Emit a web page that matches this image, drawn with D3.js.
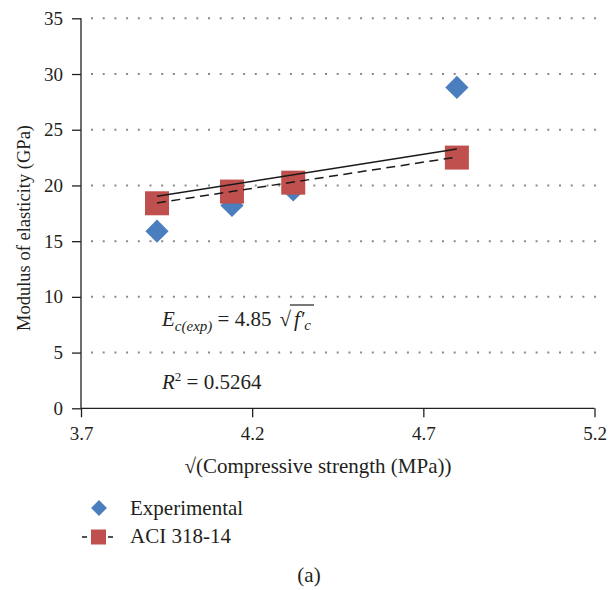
<!DOCTYPE html>
<html>
<head>
<meta charset="utf-8">
<script src="https://cdn.jsdelivr.net/npm/d3@7"></script>
<style>
  body { margin: 0; background: #fff; }
  svg text { font-family: "Liberation Serif", "Times New Roman", Times, Tinos, "Noto Serif", "DejaVu Serif", FreeSerif, serif; fill: #231f20; }
</style>
</head>
<body>
<div id="chart"></div>
<script>
// sqrt(f'c) values of the specimens (MPa^0.5)
const sqrtFc = [3.922, 4.141, 4.32, 4.798];
// Measured modulus (GPa)
const experimental = [15.9, 18.2, 19.6, 28.8];
// ACI 318-14 predicted modulus (GPa)
const aci = [18.4, 19.45, 20.25, 22.5];

// Fit line end points (x, GPa)
const expFit = [[3.922, 19.02], [4.798, 23.27]];
const aciFit = [[3.922, 18.43], [4.798, 22.55]];

const xTicks = [3.7, 4.2, 4.7, 5.2];
const yTicks = [0, 5, 10, 15, 20, 25, 30, 35];

const width = 608, height = 590;
const plot = { left: 81, right: 594.5, top: 18.3, bottom: 408.3 };
const serif = '"Liberation Serif", "Times New Roman", Times, Tinos, "Noto Serif", "DejaVu Serif", FreeSerif, serif';

const svg = d3.select("#chart").append("svg")
    .attr("width", width)
    .attr("height", height)
    .attr("font-family", serif);

const x = d3.scaleLinear().domain([3.7, 5.2]).range([plot.left, plot.right]);
const y = d3.scaleLinear().domain([0, 35]).range([plot.bottom, plot.top]);

// dotted grid lines
svg.append("g").selectAll("line")
    .data(yTicks.filter(d => d > 0))
    .enter().append("line")
    .attr("x1", plot.left + 10)
    .attr("x2", 597)
    .attr("y1", d => y(d))
    .attr("y2", d => y(d))
    .attr("stroke", "#8a8a8a")
    .attr("stroke-width", 2)
    .attr("stroke-dasharray", "2,9.7");

// axes
const xAxis = svg.append("g")
    .attr("transform", `translate(0,${plot.bottom})`)
    .call(d3.axisBottom(x).tickValues(xTicks).tickFormat(d3.format(".1f")).tickSize(9).tickPadding(9));

const yAxis = svg.append("g")
    .attr("transform", `translate(${plot.left},0)`)
    .call(d3.axisLeft(y).tickValues(yTicks).tickSize(9).tickPadding(9));

[xAxis, yAxis].forEach(g => {
    g.attr("font-family", serif);
    g.select(".domain").attr("stroke", "#231f20").attr("stroke-width", 1.3);
    g.selectAll(".tick line").attr("stroke", "#231f20").attr("stroke-width", 1.3);
    g.selectAll(".tick text").attr("font-size", 19).attr("fill", "#231f20");
});
// remove the outer tick caps of the domain path
xAxis.select(".domain").attr("d", `M${plot.left},0H${plot.right}`);
yAxis.select(".domain").attr("d", `M0,${plot.top}V${plot.bottom}`);

// axis titles
svg.append("text")
    .attr("x", 318)
    .attr("y", 473)
    .attr("text-anchor", "middle")
    .attr("font-size", 21)
    .text("√(Compressive strength (MPa))");

svg.append("text")
    .attr("transform", "translate(30,228) rotate(-90)")
    .attr("text-anchor", "middle")
    .attr("font-size", 18.5)
    .text("Modulus of elasticity (GPa)");

const blue = "#4a7ebf", red = "#c0504d";

// experimental diamonds
svg.append("g").selectAll("rect")
    .data(sqrtFc.map((d, i) => [d, experimental[i]]))
    .enter().append("rect")
    .attr("x", -8.2).attr("y", -8.2)
    .attr("width", 16.4).attr("height", 16.4)
    .attr("fill", blue)
    .attr("transform", d => `translate(${x(d[0])},${y(d[1])}) rotate(45)`);

// ACI squares
svg.append("g").selectAll("rect")
    .data(sqrtFc.map((d, i) => [d, aci[i]]))
    .enter().append("rect")
    .attr("x", d => x(d[0]) - 12)
    .attr("y", d => y(d[1]) - 12)
    .attr("width", 24).attr("height", 24)
    .attr("fill", red);

// fit lines
const line = d3.line().x(d => x(d[0])).y(d => y(d[1]));
svg.append("path")
    .attr("d", line(expFit))
    .attr("fill", "none")
    .attr("stroke", "#1a1a1a")
    .attr("stroke-width", 1.5);
svg.append("path")
    .attr("d", line(aciFit))
    .attr("fill", "none")
    .attr("stroke", "#1a1a1a")
    .attr("stroke-width", 1.5)
    .attr("stroke-dasharray", "9,5.5");

// equation
const eq = svg.append("text").attr("x", 162).attr("y", 326).attr("font-size", 21);
eq.append("tspan").attr("font-style", "italic").text("E");
eq.append("tspan").attr("font-style", "italic").attr("font-size", 15).attr("dy", 5).text("c(exp)");
eq.append("tspan").attr("dy", -5).text(" = 4.85");
const eqEnd = 162 + eq.node().getComputedTextLength();

const root = svg.append("text").attr("x", eqEnd + 8).attr("y", 326).attr("font-size", 21).text("√");
const rootEnd = eqEnd + 8 + root.node().getComputedTextLength();
const fc = svg.append("text").attr("x", rootEnd + 3).attr("y", 326).attr("font-size", 21);
fc.append("tspan").attr("font-style", "italic").text("f′");
fc.append("tspan").attr("font-style", "italic").attr("font-size", 15).attr("dy", 4).text("c");
const fcEnd = rootEnd + 3 + fc.node().getComputedTextLength();
svg.append("line")
    .attr("x1", rootEnd - 1).attr("x2", fcEnd + 3)
    .attr("y1", 305).attr("y2", 305)
    .attr("stroke", "#231f20").attr("stroke-width", 1.2);

const r2 = svg.append("text").attr("x", 162).attr("y", 389).attr("font-size", 21);
r2.append("tspan").attr("font-style", "italic").text("R");
r2.append("tspan").attr("font-size", 13).attr("dy", -8).text("2");
r2.append("tspan").attr("dy", 8).text(" = 0.5264");

// legend
const legend = svg.append("g");
legend.append("rect")
    .attr("x", -5.6).attr("y", -5.6).attr("width", 11.2).attr("height", 11.2)
    .attr("fill", blue)
    .attr("transform", "translate(99,508) rotate(45)");
legend.append("text").attr("x", 130).attr("y", 515).attr("font-size", 21).text("Experimental");

legend.append("line")
    .attr("x1", 82).attr("x2", 115).attr("y1", 537).attr("y2", 537)
    .attr("stroke", "#1a1a1a").attr("stroke-width", 1.5)
    .attr("stroke-dasharray", "5,21");
legend.append("rect")
    .attr("x", 91).attr("y", 529.5).attr("width", 15).attr("height", 15)
    .attr("fill", red);
legend.append("text").attr("x", 130).attr("y", 543).attr("font-size", 21).text("ACI 318-14");

svg.append("text")
    .attr("x", 309).attr("y", 582)
    .attr("text-anchor", "middle")
    .attr("font-size", 21)
    .text("(a)");
</script>
</body>
</html>
